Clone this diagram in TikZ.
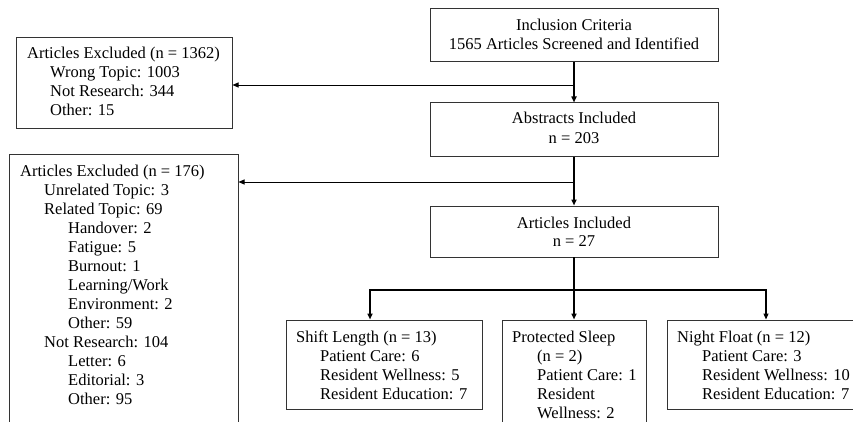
\documentclass[tikz,border=0pt]{standalone}
\usepackage{fontspec}
\setmainfont{Liberation Serif}
\usetikzlibrary{arrows.meta}
\begin{document}
\begin{tikzpicture}[x=1pt,y=-1pt,
  box/.style={draw=black!80, line width=1pt, inner sep=0pt},
  txt/.style={anchor=base west, inner sep=0pt, font=\fontsize{16.5}{19}\selectfont},
  ctxt/.style={anchor=base, inner sep=0pt, font=\fontsize{16.5}{19}\selectfont},
  thinarrow/.style={line width=0.9pt, -{Triangle[length=6pt,width=5pt]}},
  thickarrow/.style={line width=1.8pt, -{Triangle[length=6pt,width=5pt]}},
  thickline/.style={line width=1.8pt, line cap=rect}]
\useasboundingbox (0,0) rectangle (853,422);
\clip (0,0) rectangle (853,422);

% boxes
\node[box, minimum width=288pt, minimum height=53pt] (inc) at (574,35.5) {};
\node[box, minimum width=216pt, minimum height=91pt] (ex1) at (124,83.5) {};
\node[box, minimum width=288pt, minimum height=54pt] (abs) at (574,130) {};
\node[box, minimum width=229pt, minimum height=285pt] (ex2) at (123.5,297.5) {};
\node[box, minimum width=288pt, minimum height=51pt] (art) at (574,231.5) {};
\node[box, minimum width=196pt, minimum height=89pt] (sl) at (384,364.5) {};
\node[box, minimum width=144pt, minimum height=120pt] (ps) at (574,380) {};
\node[box, minimum width=203pt, minimum height=89pt] (nf) at (768.5,364.5) {};

% texts
\node[ctxt] (inc1) at (574,31) {Inclusion Criteria};
\node[ctxt] (inc2) at (574,50) {1565 Articles Screened and Identified};
\node[ctxt] (abs1) at (574,124) {Abstracts Included};
\node[ctxt] (abs2) at (574,144) {n = 203};
\node[ctxt] (art1) at (574,228) {Articles Included};
\node[ctxt] (art2) at (574,246) {n = 27};

\node[txt] (e11) at (27,59) {Articles Excluded (n = 1362)};
\node[txt] (e12) at (50,78) {Wrong Topic: 1003};
\node[txt] (e13) at (50,97) {Not Research: 344};
\node[txt] (e14) at (50,116) {Other: 15};

\node[txt] (e21) at (20,176) {Articles Excluded (n = 176)};
\node[txt] (e22) at (44,195) {Unrelated Topic: 3};
\node[txt] (e23) at (44,214) {Related Topic: 69};
\node[txt] (e24) at (68,233) {Handover: 2};
\node[txt] (e25) at (68,252) {Fatigue: 5};
\node[txt] (e26) at (68,271) {Burnout: 1};
\node[txt] (e27) at (68,290) {Learning/Work};
\node[txt] (e28) at (68,309) {Environment: 2};
\node[txt] (e29) at (68,328) {Other: 59};
\node[txt] (e210) at (44,347) {Not Research: 104};
\node[txt] (e211) at (68,366) {Letter: 6};
\node[txt] (e212) at (68,385) {Editorial: 3};
\node[txt] (e213) at (68,404) {Other: 95};

\node[txt] (sl1) at (296,342) {Shift Length (n = 13)};
\node[txt] (sl2) at (320,361) {Patient Care: 6};
\node[txt] (sl3) at (320,380) {Resident Wellness: 5};
\node[txt] (sl4) at (320,399) {Resident Education: 7};

\node[txt] (ps1) at (512,342) {Protected Sleep};
\node[txt] (ps2) at (537,361) {(n = 2)};
\node[txt] (ps3) at (537,380) {Patient Care: 1};
\node[txt] (ps4) at (537,399) {Resident};
\node[txt] (ps5) at (537,418) {Wellness: 2};

\node[txt] (nf1) at (677,342) {Night Float (n = 12)};
\node[txt] (nf2) at (702,361) {Patient Care: 3};
\node[txt] (nf3) at (702,380) {Resident Wellness: 10};
\node[txt] (nf4) at (702,399) {Resident Education: 7};

% connectors
\coordinate (b1) at (574,85);
\coordinate (b2) at (574,182);
\coordinate (b3) at (574,290);
\coordinate (bl) at (370,290);
\coordinate (br) at (766,290);
\draw[thickarrow] (inc.south) -- (abs.north);
\draw[thinarrow] (b1) -- (b1 -| ex1.east);
\draw[thickarrow] (abs.south) -- (art.north);
\draw[thinarrow] (b2) -- (b2 -| ex2.east);
\draw[thickline] (art.south) -- (b3);
\draw[thickline] (bl) -- (br);
\draw[thickarrow] (bl) -- (bl |- sl.north);
\draw[thickarrow] (b3) -- (ps.north);
\draw[thinarrow, line width=1.2pt] (br) -- (br |- nf.north);
\end{tikzpicture}
\end{document}
